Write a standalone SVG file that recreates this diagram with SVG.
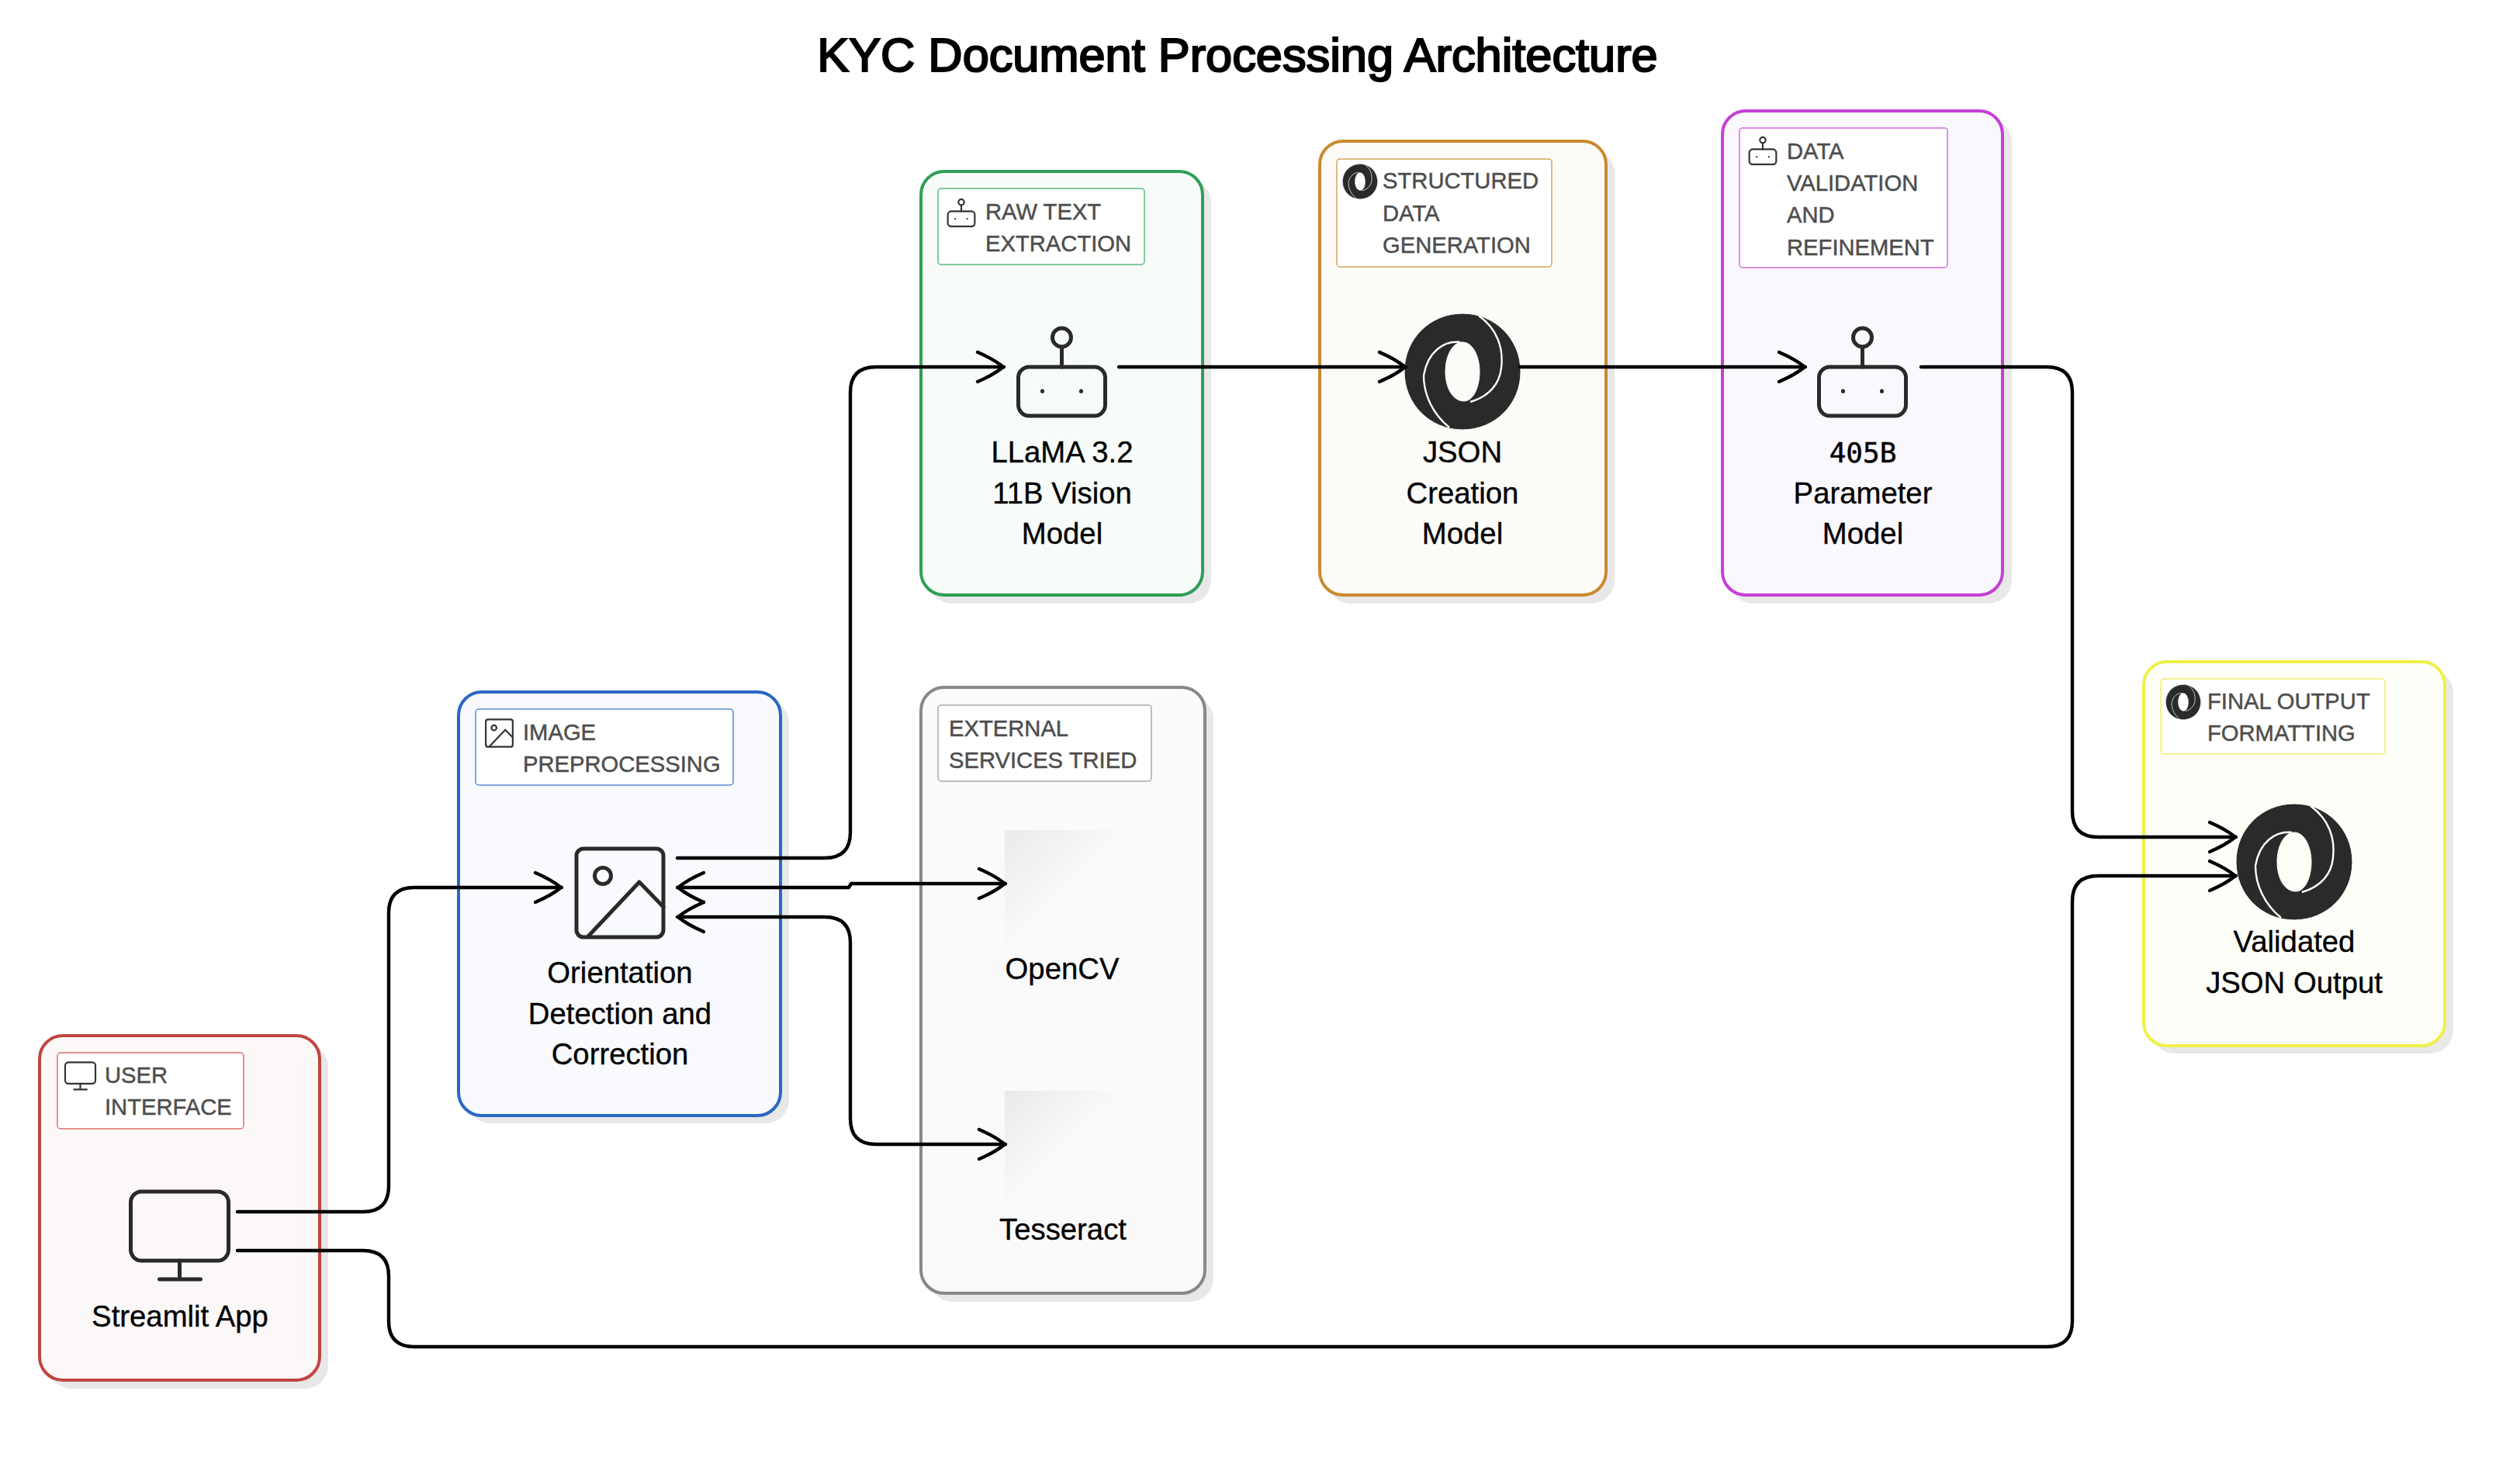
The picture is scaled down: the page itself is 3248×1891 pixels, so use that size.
<svg xmlns="http://www.w3.org/2000/svg" xmlns:xlink="http://www.w3.org/1999/xlink" width="3248" height="1891" viewBox="0 0 3248 1891">
<style>
text{font-family:"Liberation Sans",Arial,sans-serif}
.title{font-size:61.3px;fill:#000;stroke:#000;stroke-width:2.2px;text-anchor:middle}
.main{font-size:38.3px;fill:#000;stroke:#000;stroke-width:.35px;text-anchor:middle}
.mono{font-family:"DejaVu Sans Mono",monospace;font-size:36px;fill:#000;stroke:#000;stroke-width:.5px;text-anchor:middle}
.lab{font-size:29.2px;fill:#4d4d4d;stroke:#4d4d4d;stroke-width:.45px}
.shadow{fill:#e8e8e8}
.box{stroke-width:4}
.tag{fill:#fff;stroke-width:1.5}
.ico{fill:none;stroke:#2a2a2a;stroke-width:5;stroke-linecap:round;stroke-linejoin:round}
.ico-s{fill:none;stroke:#333;stroke-width:7;stroke-linecap:round;stroke-linejoin:round}
.conn{fill:none;stroke:#000;stroke-width:4.4;stroke-linecap:round;stroke-linejoin:round}
.red{fill:#fdf8f8;stroke:#c2453f}.red-t{stroke:#d9706b}
.blue{fill:#f8fafe;stroke:#2b67c4}.blue-t{stroke:#5a8bd6}
.gray{fill:#fafafa;stroke:#888}.gray-t{stroke:#aaa}
.green{fill:#f7fcf9;stroke:#2f9e56}.green-t{stroke:#5db87f}
.orange{fill:#fcfbf7;stroke:#c98a2e}.orange-t{stroke:#d6a45a}
.purple{fill:#fbf8fd;stroke:#c63fd6}.purple-t{stroke:#d36be0}
.yellow{fill:#fefef8;stroke:#efef4a}.yellow-t{stroke:#efef6a}
.swirl{fill:none;stroke-width:2.4}
</style>
<defs>
<marker id="arrow" markerUnits="userSpaceOnUse" markerWidth="40" markerHeight="44" refX="0" refY="0" orient="auto-start-reverse" style="overflow:visible">
<path d="M-34 -19 Q-13 -10 -1 0 Q-13 10 -34 19" fill="none" stroke="#000" stroke-width="4.4" stroke-linecap="round" stroke-linejoin="round"/>
</marker>
<linearGradient id="fade" x1="0" y1="0" x2="1" y2="1">
<stop offset="0" stop-color="#eaeaea"/><stop offset="0.55" stop-color="#fafafa"/><stop offset="1" stop-color="#fafafa"/>
</linearGradient>
<g id="monitor"><rect x="-63" y="-44" width="126" height="89" rx="14"/><path d="M0 45V69M-26 69H27"/></g>
<g id="robot"><rect x="-56" y="-31" width="112" height="63" rx="14"/><circle cx="0" cy="-69" r="12"/><path d="M0 -56V-31"/><path d="M-25 0V0.5M25 0V0.5"/></g>
<g id="picture"><rect x="-56" y="-57" width="112" height="114" rx="9"/><circle cx="-22" cy="-22" r="10.500"/><path d="M-41 56L25 -14L56 18"/></g>
<g id="logo">
<path fill="#2a2a2a" fill-rule="evenodd" d="M0 -75C42 -75 75 -42 75 0C75 42 42 75 0 75C-42 75 -75 42 -75 0C-75 -42 -42 -75 0 -75ZM0 -38C-13 -38 -22 -20 -22 0C-22 22 -12 38 2 38C14 38 22 20 22 0C22 -20 13 -38 0 -38Z"/>
<path class="swirl" d="M21 -72C45 -55 53 -30 50 -5C48 15 35 32 10 39M-3 -38C-25 -40 -45 -25 -50 5C-50 30 -38 55 -17 72"/>
</g>
</defs>

<text class="title" x="1595" y="92">KYC Document Processing Architecture</text>

<g id="user-interface">
<rect class="shadow" x="62" y="1346" width="361" height="444" rx="30"/>
<rect class="box red" x="51" y="1335" width="361" height="444" rx="30"/>
<rect class="tag red-t" x="74" y="1357" width="240" height="98" rx="4" style="fill:#fff"/>
<use href="#monitor" class="ico-s" transform="translate(103.500 1383) scale(.31)"/>
<text class="lab" x="135" y="1396">USER</text>
<text class="lab" x="135" y="1437">INTERFACE</text>
<use href="#monitor" class="ico" transform="translate(231.500 1580)"/>
<text class="main" x="232" y="1710">Streamlit App</text>
</g>

<g id="image-preprocessing">
<rect class="shadow" x="602" y="902" width="415" height="546" rx="30"/>
<rect class="box blue" x="591" y="892" width="415" height="546" rx="30"/>
<rect class="tag blue-t" x="613" y="914" width="332" height="98" rx="4" style="fill:#fff"/>
<use href="#picture" class="ico-s" transform="translate(643.500 945) scale(.31)"/>
<text class="lab" x="674" y="954">IMAGE</text>
<text class="lab" x="674" y="995">PREPROCESSING</text>
<use href="#picture" class="ico" transform="translate(799 1151)"/>
<text class="main" x="799" y="1267">Orientation</text>
<text class="main" x="799" y="1320">Detection and</text>
<text class="main" x="799" y="1372">Correction</text>
</g>

<g id="external-services">
<rect class="shadow" x="1198" y="897" width="366" height="781" rx="30"/>
<rect class="box gray" x="1187" y="886" width="366" height="781" rx="30"/>
<rect class="tag gray-t" x="1209" y="909" width="275" height="98" rx="4" style="fill:#fff"/>
<text class="lab" x="1223" y="949">EXTERNAL</text>
<text class="lab" x="1223" y="990">SERVICES TRIED</text>
<g id="opencv"><rect x="1295" y="1070" width="150" height="149" fill="url(#fade)"/>
<text class="main" x="1369" y="1262">OpenCV</text></g>
<g id="tesseract"><rect x="1295" y="1406" width="150" height="149" fill="url(#fade)"/>
<text class="main" x="1370" y="1598">Tesseract</text></g>
</g>

<g id="raw-text-extraction">
<rect class="shadow" x="1197" y="231" width="364" height="547" rx="30"/>
<rect class="box green" x="1187" y="221" width="363" height="546" rx="30"/>
<rect class="tag green-t" x="1209" y="243" width="266" height="98" rx="4" style="fill:#fff"/>
<use href="#robot" class="ico-s" transform="translate(1239 282) scale(.31)"/>
<text class="lab" x="1270" y="283">RAW TEXT</text>
<text class="lab" x="1270" y="324">EXTRACTION</text>
<use href="#robot" class="ico" transform="translate(1368.500 504)"/>
<text class="main" x="1369" y="596">LLaMA 3.2</text>
<text class="main" x="1369" y="649">11B Vision</text>
<text class="main" x="1369" y="701">Model</text>
</g>

<g id="structured-data">
<rect class="shadow" x="1711" y="193" width="370" height="585" rx="30"/>
<rect class="box orange" x="1701" y="182" width="369" height="585" rx="30"/>
<rect class="tag orange-t" x="1723" y="205" width="277" height="139" rx="4" style="fill:#fff"/>
<use href="#logo" transform="translate(1753 234) scale(.3)" stroke="#fff"/>
<text class="lab" x="1782" y="243">STRUCTURED</text>
<text class="lab" x="1782" y="285">DATA</text>
<text class="lab" x="1782" y="326">GENERATION</text>
<use href="#logo" transform="translate(1885 479)" stroke="#fcfbf7"/>
<text class="main" x="1885" y="596">JSON</text>
<text class="main" x="1885" y="649">Creation</text>
<text class="main" x="1885" y="701">Model</text>
</g>

<g id="data-validation">
<rect class="shadow" x="2230" y="153" width="363" height="625" rx="30"/>
<rect class="box purple" x="2220" y="143" width="361" height="624" rx="30"/>
<rect class="tag purple-t" x="2242" y="165" width="268" height="180" rx="4" style="fill:#fff"/>
<use href="#robot" class="ico-s" transform="translate(2272 202) scale(.31)"/>
<text class="lab" x="2303" y="205">DATA</text>
<text class="lab" x="2303" y="246">VALIDATION</text>
<text class="lab" x="2303" y="287">AND</text>
<text class="lab" x="2303" y="329">REFINEMENT</text>
<use href="#robot" class="ico" transform="translate(2400.500 504)"/>
<text class="mono" x="2401" y="596">405B</text>
<text class="main" x="2401" y="649">Parameter</text>
<text class="main" x="2401" y="701">Model</text>
</g>

<g id="final-output">
<rect class="shadow" x="2773" y="863" width="389" height="495" rx="30"/>
<rect class="box yellow" x="2763" y="853" width="388" height="495" rx="30"/>
<rect class="tag yellow-t" x="2785" y="875" width="289" height="97" rx="4" style="fill:#fff"/>
<use href="#logo" transform="translate(2814 905) scale(.3)" stroke="#fff"/>
<text class="lab" x="2845" y="914">FINAL OUTPUT</text>
<text class="lab" x="2845" y="955">FORMATTING</text>
<use href="#logo" transform="translate(2957 1111)" stroke="#fefef8"/>
<text class="main" x="2957" y="1227">Validated</text>
<text class="main" x="2957" y="1280">JSON Output</text>
</g>

<g id="connectors">
<path class="conn" marker-end="url(#arrow)" d="M306 1562H468Q501 1562 501 1529V1177Q501 1144 534 1144H724"/>
<path class="conn" marker-end="url(#arrow)" d="M306 1612H468Q501 1612 501 1645V1703Q501 1736 534 1736H2638Q2671 1736 2671 1703V1162Q2671 1129 2704 1129H2882"/>
<path class="conn" marker-end="url(#arrow)" d="M873 1106H1063Q1096 1106 1096 1073V506Q1096 473 1129 473H1294"/>
<path class="conn" marker-start="url(#arrow)" marker-end="url(#arrow)" d="M873 1144H1094L1097 1139H1296"/>
<path class="conn" marker-start="url(#arrow)" marker-end="url(#arrow)" d="M873 1182H1063Q1096 1182 1096 1215V1442Q1096 1475 1129 1475H1296"/>
<path class="conn" marker-end="url(#arrow)" d="M1442 473H1812"/>
<path class="conn" marker-end="url(#arrow)" d="M1959 473H2327"/>
<path class="conn" marker-end="url(#arrow)" d="M2476 473H2638Q2671 473 2671 506V1046Q2671 1079 2704 1079H2882"/>
</g>
</svg>
